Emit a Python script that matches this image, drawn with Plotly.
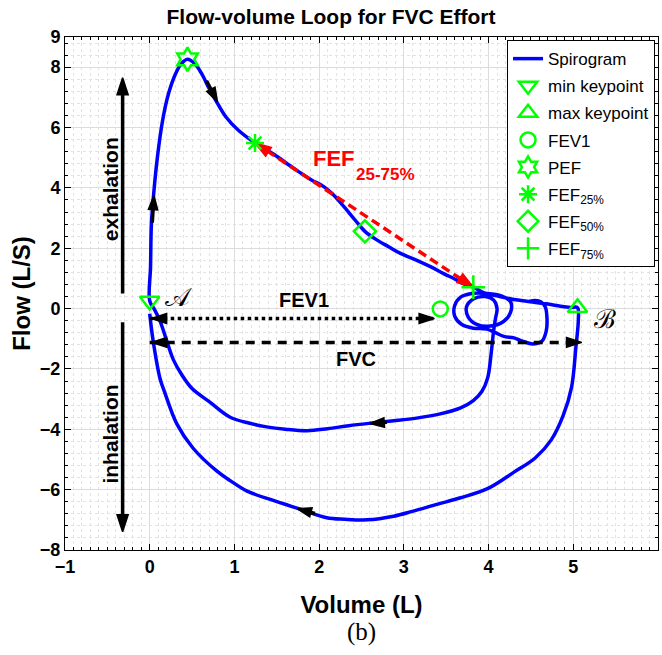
import plotly.graph_objects as go

# ---- spirogram samples (volume in L, flow in L/s) ----
volume = [
    4.48, 4.55, 4.62, 4.67, 4.69, 4.68, 4.63, 4.52, 4.40, 4.30, 4.18, 4.08, 3.98, 3.82, 3.68,
    3.60, 3.60, 3.67, 3.80, 3.98, 4.15, 4.26, 4.26, 4.18, 4.02, 3.86, 3.76, 3.74, 3.82, 3.96,
    4.06, 4.10, 4.08, 4.06,
    4.03, 3.99, 3.92, 3.82, 3.67, 3.43, 3.15, 2.88, 2.60, 2.35, 2.10, 1.86, 1.60, 1.38, 1.18,
    0.95, 0.71, 0.50, 0.38, 0.28, 0.20, 0.12, 0.05, 0.00,
    0.01, 0.02, 0.05, 0.09, 0.15, 0.22, 0.30, 0.37, 0.446, 0.53, 0.61, 0.70, 0.80, 0.90, 1.05,
    1.243, 1.46, 1.70, 1.90, 2.05, 2.15, 2.28, 2.42, 2.54, 2.69, 2.82, 2.96, 3.16, 3.32, 3.47,
    3.60, 3.70, 3.82, 3.95, 4.10, 4.30, 4.45, 4.70, 4.85, 4.97, 5.05,
    5.06, 5.03, 4.98, 4.88, 4.74, 4.55, 4.30, 4.00, 3.67, 3.40, 3.10, 2.88, 2.57, 2.30, 2.09,
    1.78, 1.45, 1.15, 0.95, 0.79, 0.51, 0.32, 0.18, 0.12, 0.04, 0.00,
]
flow = [
    0.24, 0.27, 0.22, 0.05, -0.35, -0.75, -1.08, -1.17, -1.08, -0.97, -0.92, -0.80, -0.68, -0.65, -0.52,
    -0.25, 0.10, 0.38, 0.50, 0.50, 0.42, 0.22, -0.12, -0.42, -0.58, -0.52, -0.28, 0.06, 0.32, 0.40,
    0.28, 0.00, -0.35, -0.73,
    -1.50, -2.29, -2.75, -3.05, -3.29, -3.49, -3.63, -3.72, -3.80, -3.88, -3.98, -4.05, -4.00, -3.92, -3.80,
    -3.60, -3.10, -2.65, -2.20, -1.70, -1.06, -0.40, 0.00, 0.25,
    1.40, 2.80, 3.90, 5.00, 6.20, 7.10, 7.75, 8.10, 8.26, 8.12, 7.80, 7.30, 6.80, 6.35, 5.90,
    5.49, 5.12, 4.65, 4.28, 4.05, 3.82, 3.42, 2.95, 2.56, 2.26, 2.05, 1.83, 1.59, 1.38, 1.16,
    0.98, 0.83, 0.71, 0.52, 0.42, 0.30, 0.24, 0.15, 0.08, 0.04, 0.03,
    -0.35, -1.30, -2.60, -3.55, -4.35, -4.95, -5.42, -5.95, -6.27, -6.48, -6.72, -6.88, -7.00, -6.98, -6.93,
    -6.65, -6.35, -6.05, -5.70, -5.38, -4.62, -3.82, -2.80, -2.30, -1.06, -0.17,
]

# ---- keypoints (volume, flow) ----
min_keypoint = (0.00, 0.25)
max_keypoint = (5.05, 0.03)
fev1_point = (3.43, -0.01)
pef_point = (0.446, 8.26)
fef25_point = (1.243, 5.49)
fef50_point = (2.54, 2.56)
fef75_point = (3.82, 0.71)

fev1_arrow_flow = -0.33
fvc_arrow_flow = -1.12

x_ticks = [-1, 0, 1, 2, 3, 4, 5, 6]
y_ticks = [-8, -6, -4, -2, 0, 2, 4, 6, 8, 9]

SANS = "Arial, Liberation Sans, sans-serif"
GREEN = "rgb(0,255,0)"
BLUE = "rgb(0,0,255)"

fig = go.Figure()

fig.add_trace(go.Scatter(
    x=volume, y=flow, mode="lines", name="Spirogram",
    line=dict(color=BLUE, width=3.5, shape="spline", smoothing=1.0), legendgroup="a",
))

# dashed reference lines
fig.add_trace(go.Scatter(
    x=[fef25_point[0], fef75_point[0]], y=[fef25_point[1], fef75_point[1]],
    mode="lines", line=dict(color="red", width=3.5, dash="9px,5px"), showlegend=False,
    hoverinfo="skip",
))
fig.add_trace(go.Scatter(
    x=[min_keypoint[0], fev1_point[0] - 0.06], y=[fev1_arrow_flow, fev1_arrow_flow],
    mode="lines", line=dict(color="black", width=3.5, dash="dot"), showlegend=False,
    hoverinfo="skip",
))
fig.add_trace(go.Scatter(
    x=[min_keypoint[0], max_keypoint[0] + 0.04], y=[fvc_arrow_flow, fvc_arrow_flow],
    mode="lines", line=dict(color="black", width=3.5, dash="9px,7px"), showlegend=False,
    hoverinfo="skip",
))


def arrow(head, tail, color="black", size=15, shaft=0):
    """Arrow whose tip sits on `head`; the shaft is drawn only when shaft > 0."""
    fig.add_trace(go.Scatter(
        x=[tail[0], head[0]], y=[tail[1], head[1]],
        mode="lines+markers" if shaft else "markers",
        line=dict(color=color, width=shaft or 1),
        marker=dict(symbol="arrow", size=[0, size], color=color, angleref="previous",
                    opacity=1, line=dict(width=1.5, color=color)),
        showlegend=False, hoverinfo="skip",
    ))


# FEF25-75 double arrow heads
dx = fef75_point[0] - fef25_point[0]
dy = fef75_point[1] - fef25_point[1]
arrow(fef25_point, (fef25_point[0] + 0.1 * dx, fef25_point[1] + 0.1 * dy), "red", 17)
arrow(fef75_point, (fef75_point[0] - 0.1 * dx, fef75_point[1] - 0.1 * dy), "red", 17)

# FEV1 and FVC double arrow heads
arrow((min_keypoint[0] + 0.02, fev1_arrow_flow), (0.4, fev1_arrow_flow), size=16)
arrow((fev1_point[0] - 0.07, fev1_arrow_flow), (fev1_point[0] - 0.5, fev1_arrow_flow), size=16)
arrow((min_keypoint[0] + 0.02, fvc_arrow_flow), (0.4, fvc_arrow_flow), size=16)
arrow((max_keypoint[0] + 0.05, fvc_arrow_flow), (max_keypoint[0] - 0.4, fvc_arrow_flow), size=16)

# exhalation / inhalation arrows
arrow((-0.32, 7.65), (-0.32, 0.5), size=18, shaft=3.5)
arrow((-0.32, -7.4), (-0.32, -0.45), size=18, shaft=3.5)

# direction markers along the loop
arrow((0.05, 3.75), (0.03, 2.85), size=15, shaft=3.5)
arrow((0.80, 6.85), (0.67, 7.55), size=15, shaft=3.5)
arrow((2.60, -3.81), (2.80, -3.77), size=15, shaft=3.5)
arrow((1.74, -6.63), (1.95, -6.79), size=15, shaft=3.5)

markers = [
    ("min keypoint", min_keypoint, "triangle-down-open", 17, "b"),
    ("max keypoint", max_keypoint, "triangle-up-open", 17, "c"),
    ("FEV1", fev1_point, "circle-open", 15, "d"),
    ("PEF", pef_point, "hexagram-open", 18, "e"),
    ("FEF<sub>25%</sub>", fef25_point, "asterisk-open", 15, "f"),
    ("FEF<sub>50%</sub>", fef50_point, "diamond-open", 17, "g"),
    ("FEF<sub>75%</sub>", fef75_point, "cross-thin-open", 17, "h"),
]
for name, pt, sym, size, grp in markers:
    fig.add_trace(go.Scatter(
        x=[pt[0]], y=[pt[1]], mode="markers", name=name, legendgroup=grp,
        marker=dict(symbol=sym, size=size, color=GREEN, line=dict(color=GREEN, width=2.5)),
    ))

annotations = []
texts = [
    dict(x=1.9, y=4.98, text="FEF", xanchor="left",
         font=dict(family=SANS, size=22, color="red", weight="bold")),
    dict(x=2.41, y=4.46, text="25-75%", xanchor="left",
         font=dict(family=SANS, size=17, color="red", weight="bold")),
    dict(x=1.82, y=0.27, text="FEV1", font=dict(family=SANS, size=20, color="black", weight="bold")),
    dict(x=2.43, y=-1.68, text="FVC", font=dict(family=SANS, size=20, color="black", weight="bold")),
    dict(x=0.34, y=0.4, text="𝒜", font=dict(family="DejaVu Serif, serif", size=26, color="black")),
    dict(x=5.37, y=-0.33, text="ℬ", font=dict(family="DejaVu Serif, serif", size=26, color="black")),
    dict(x=-0.46, y=3.95, text="exhalation", textangle=-90,
         font=dict(family=SANS, size=21, color="black", weight="bold")),
    dict(x=-0.46, y=-4.15, text="inhalation", textangle=-90,
         font=dict(family=SANS, size=21, color="black", weight="bold")),
]
for t in texts:
    annotations.append(dict(xref="x", yref="y", showarrow=False, **t))

# panel label
annotations.append(dict(xref="paper", yref="paper", x=0.5, y=0, yshift=-82, yanchor="middle",
                        text="(b)", showarrow=False,
                        font=dict(family="Liberation Serif, DejaVu Serif, serif", size=25, color="black")))

axis_common = dict(
    showline=True, linecolor="black", linewidth=1, mirror="ticks",
    ticks="inside", ticklen=6, tickcolor="black",
    showgrid=True, gridcolor="#dcdcdc", gridwidth=1, zeroline=False,
    tickfont=dict(family=SANS, size=18, color="black", weight="bold"),
)
minor_common = dict(tick0=0, ticks="inside", ticklen=3, tickcolor="black",
                    showgrid=True, gridcolor="#e3e3e3", griddash="dot", gridwidth=1)
title_font = dict(family=SANS, size=24, color="black", weight="bold")

fig.update_layout(
    width=662, height=655, autosize=False,
    margin=dict(l=65, r=4, t=37, b=105),
    paper_bgcolor="white", plot_bgcolor="white",
    title=dict(text="Flow-volume Loop for FVC Effort", x=0.5, xanchor="center", xref="container",
               y=1 - 17 / 655, yanchor="middle", yref="container",
               font=dict(family=SANS, size=21, color="black", weight="bold")),
    xaxis=dict(range=[-1, 6], tickvals=x_ticks, minor=dict(dtick=0.1, **minor_common),
               title=dict(text="Volume (L)", font=title_font, standoff=20), **axis_common),
    yaxis=dict(range=[-8, 9], tickvals=y_ticks, minor=dict(dtick=0.4, **minor_common),
               title=dict(text="Flow (L/S)", font=title_font, standoff=2), **axis_common),
    legend=dict(x=0.995, y=0.994, xanchor="right", yanchor="top",
                bgcolor="white", bordercolor="black", borderwidth=1,
                font=dict(family=SANS, size=17, color="black"),
                tracegroupgap=2, itemwidth=30),
    annotations=annotations,
    showlegend=True,
)

fig.write_html("out.html")
